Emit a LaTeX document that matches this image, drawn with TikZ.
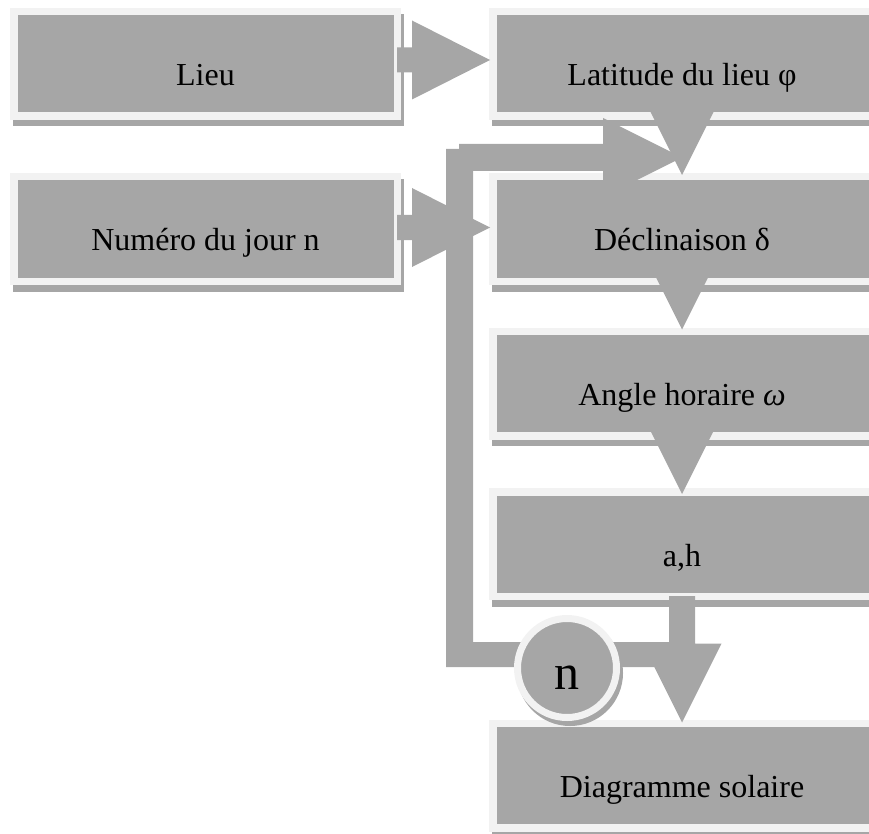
\documentclass[tikz,border=0pt]{standalone}
\usepackage{fontspec}
\setmainfont{Liberation Serif}
\usetikzlibrary{calc}
\definecolor{boxgray}{HTML}{A6A6A6}
\definecolor{lightb}{HTML}{F2F2F2}
\tikzset{
  box/.style={rectangle, fill=boxgray, draw=lightb, line width=7.5pt, inner sep=0pt,
    minimum height=104.5pt,
    preaction={draw=boxgray, fill=boxgray, transform canvas={shift={(3pt,-6.5pt)}}}},
  lbox/.style={box, minimum width=383.5pt},
  rbox/.style={box, minimum width=406.5pt},
  circbox/.style={circle, fill=boxgray, draw=lightb, line width=7pt, inner sep=0pt,
    minimum size=99pt,
    preaction={draw=boxgray, fill=boxgray, transform canvas={shift={(3pt,-5pt)}}}},
  arr/.style={fill=boxgray, draw=none},
  lbl/.style={font=\fontsize{32}{38}\selectfont, anchor=base, inner sep=0pt, text=black},
  bigl/.style={font=\fontsize{50}{60}\selectfont, anchor=base, inner sep=0pt, text=black}
}
% horizontal block arrow: #1 start, #2 tip, #3 shaft half width
\newcommand\myharrow[3]{\fill[arr] let \p1=(#1), \p2=(#2) in
  (\x1,\y2+#3) -- (\x2-78pt,\y2+#3) -- (\x2-78pt,\y2+39.5pt) -- (\x2,\y2)
  -- (\x2-78pt,\y2-39.5pt) -- (\x2-78pt,\y2-#3) -- (\x1,\y2-#3) -- cycle;}
% vertical (downward) block arrow: #1 start, #2 tip
\newcommand\myvarrow[2]{\fill[arr] let \p1=(#1), \p2=(#2) in
  (\x2-13pt,\y1) -- (\x2-13pt,\y2+79pt) -- (\x2-39.5pt,\y2+79pt) -- (\x2,\y2)
  -- (\x2+39.5pt,\y2+79pt) -- (\x2+13pt,\y2+79pt) -- (\x2+13pt,\y1) -- cycle;}
\begin{document}
\begin{tikzpicture}[x=1pt,y=-1pt]
\useasboundingbox (0,0) rectangle (869,834);
\clip (0,0) rectangle (869,834);
% boxes (right column runs off the page edge; visible centre line at x=682)
\node[lbox] (lieu)   at (205.5,64)  {};
\node[lbox] (numero) at (205.5,229) {};
\node[rbox] (lat)    at (696,64)    {};
\node[rbox] (decl)   at (696,229)   {};
\node[rbox] (angle)  at (696,383.5) {};
\node[rbox] (ah)     at (696,544)   {};
\node[rbox] (diag)   at (696,775.5) {};
% arrows
\myharrow{$(lieu.east)+(-4,-4)$}{$(lat.west)+(1,-4)$}{12.5pt}
\myharrow{$(numero.east)+(-4,-1.5)$}{$(decl.west)+(1,-1.5)$}{12.5pt}
\myvarrow{$(lat.center)+(-14,0)$}{$(decl.north)+(-14,2)$}
\myvarrow{$(decl.center)+(-14,0)$}{$(angle.north)+(-14,2)$}
\myvarrow{$(angle.center)+(-14,0)$}{$(ah.north)+(-14,6)$}
\myvarrow{$(ah.south)+(-14,-4)$}{$(diag.north)+(-14,3)$}
% feedback loop
\coordinate (looptip) at ($(decl.north)+(-14,-15.5)$);
\coordinate (loopend) at ($(diag.north)+(-14,-65)$);
\fill[arr] let \p1=(looptip), \p2=(loopend) in
  (\x2,\y2-12.5pt) -- (446pt,\y2-12.5pt) -- (446,149) -- (459,149) -- (459,144)
  -- (\x1-79pt,\y1+13.5pt) -- (\x1-79pt,\y1+39.5pt) -- (\x1,\y1)
  -- (\x1-79pt,\y1-39.5pt) -- (\x1-79pt,\y1-13.5pt) -- (473,171)
  -- (473pt,\y2+12.5pt) -- (\x2,\y2+12.5pt) -- cycle;
% loop counter
\node[circbox] (ncirc) at (567,668) {};
% labels
\node[lbl] (lieu-t)   at ($(lieu.center)+(0,22)$)     {Lieu};
\node[lbl] (numero-t) at ($(numero.center)+(0,22)$)   {Numéro du jour n};
\node[lbl] (lat-t)    at ($(lat.center)+(-14,22)$)    {Latitude du lieu φ};
\node[lbl] (decl-t)   at ($(decl.center)+(-14,22)$)   {Déclinaison δ};
\node[lbl] (angle-t)  at ($(angle.center)+(-14,22)$)  {Angle horaire \textit{ω}};
\node[lbl] (ah-t)     at ($(ah.center)+(-14,22)$)     {a,h};
\node[lbl] (diag-t)   at ($(diag.center)+(-14,22)$)   {Diagramme solaire};
\node[bigl] (ncirc-t) at ($(ncirc.center)+(0,21)$)    {n};
\end{tikzpicture}
\end{document}
